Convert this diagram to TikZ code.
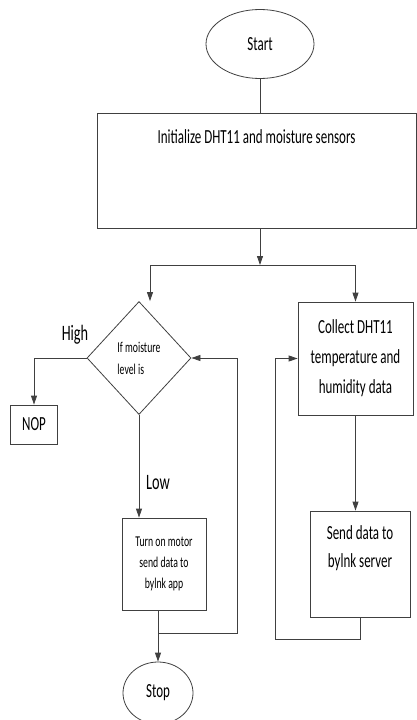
\documentclass[tikz,border=0pt]{standalone}
\usepackage{fontspec}
\setmainfont{Carlito}[FakeStretch=0.65]
\usetikzlibrary{shapes.geometric,arrows.meta}
\newcommand{\bigtxt}{\fontsize{20pt}{30pt}\selectfont}
\newcommand{\sendtxt}{\fontsize{20pt}{28pt}\selectfont}
\newcommand{\midtxt}{\fontsize{15pt}{21pt}\selectfont}
\newcommand{\smalltxt}{\fontsize{15pt}{22pt}\selectfont}
\newcommand{\tagtxt}{\fontsize{22pt}{26pt}\selectfont}
\begin{document}
\begin{tikzpicture}[x=1pt,y=-1pt,
  flow/.style={draw=black!75, line width=0.8pt},
  box/.style={flow, rectangle, inner sep=0pt},
  term/.style={flow, ellipse, inner sep=0pt},
  arr/.style={flow, -{Triangle[length=9pt,width=6pt]}}]
\useasboundingbox (0,0) rectangle (417,720);

% terminals and process boxes
\node[term, minimum width=108pt, minimum height=69pt, font=\bigtxt] (start) at (260,44) {Start};
\node[box, minimum width=319pt, minimum height=115pt,
  label={[font=\bigtxt, anchor=center, yshift=-24pt]north:Initialize DHT11 and moisture sensors}]
  (init) at (256.5,170.5) {};
\node[flow, diamond, minimum width=104pt, minimum height=113pt, inner sep=0pt,
  align=left, font=\smalltxt] (dia) at (139,358) {If moisture\\level is};
\node[box, minimum width=47pt, minimum height=39pt, font=\bigtxt] (nop) at (34,424.5) {NOP};
\node[box, minimum width=84pt, minimum height=92pt, align=center, font=\midtxt]
  (turn) at (164,564) {Turn on motor\\send data to\\bylnk app};
\node[term, minimum width=70pt, minimum height=62pt, font=\bigtxt] (stop) at (158,693) {Stop};
\node[box, minimum width=115pt, minimum height=113pt, align=center, font=\bigtxt]
  (collect) at (355.5,358.5) {Collect DHT11\\temperature and\\humidity data};
\node[box, minimum width=100pt, minimum height=106pt,
  label={[font=\sendtxt, align=center, anchor=center, yshift=-38pt]north:Send data to\\bylnk server}]
  (send) at (360,564) {};

% branch labels
\node[font=\tagtxt] (high) at (75,335) {High};
\node[font=\tagtxt] (low) at (158,483) {Low};

% connectors
\coordinate (split) at (start.south |- 0,265);
\coordinate (lsplit) at (150,265);
\coordinate (rsplit) at (collect.north |- split);
\draw[flow] (start.south) -- (start.south |- init.north);
\draw[arr] (start.south |- init.south) -- (split);
\draw[flow] (lsplit) -- (rsplit);
\draw[arr] (lsplit) -- (lsplit |- dia.north);
\draw[arr] (rsplit) -- (collect.north);

\draw[arr] (dia.west) -| (nop.north);
\draw[arr] (dia.south) -- (dia.south |- turn.north);
\draw[arr] (stop.north |- turn.south) -- (stop.north);
\coordinate (tjoin) at (stop.north |- 0,633);
\coordinate (lret) at (237,633);
\draw[arr] (tjoin) -- (lret) |- (dia.east);

\draw[arr] (collect.south) -- (collect.south |- send.north);
\coordinate (rret) at (275,639);
\draw[arr] (send.south) |- (rret) |- (collect.west);
\end{tikzpicture}
\end{document}
